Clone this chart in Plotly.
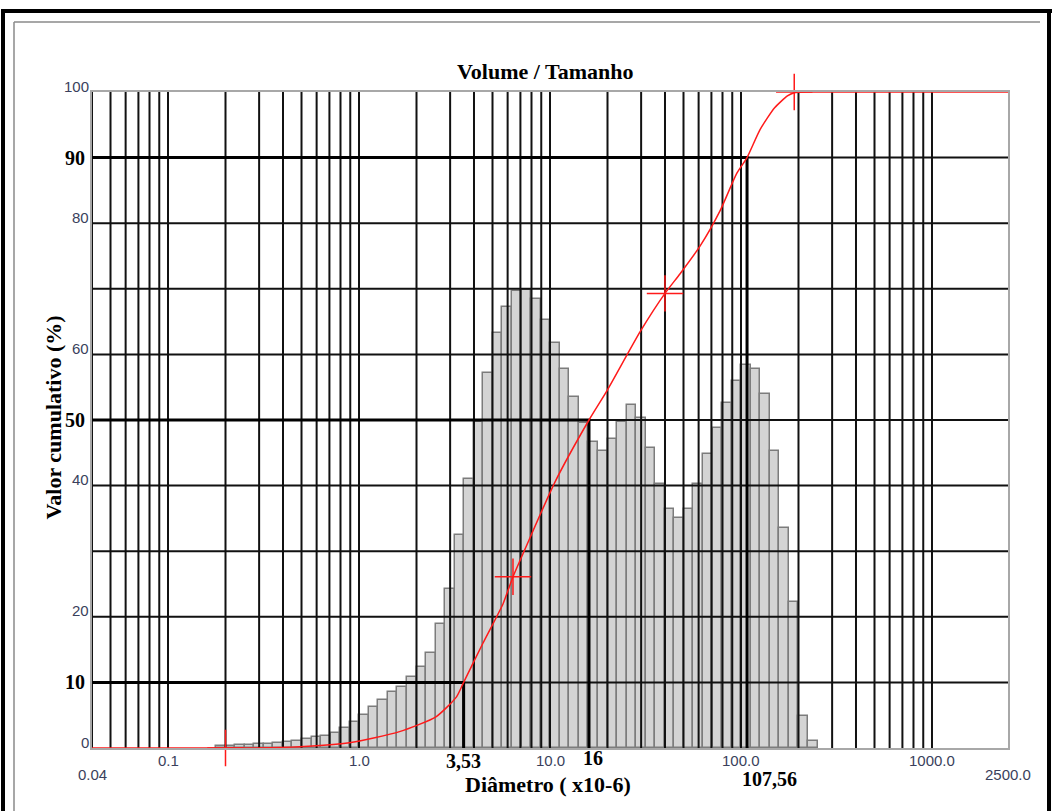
import math
import plotly.graph_objects as go

# Particle size classes (lower edges, micrometres) and volume histogram heights
class_edges = [0.178, 0.200, 0.224, 0.252, 0.283, 0.317, 0.356, 0.399, 0.448, 0.502,
               0.564, 0.632, 0.710, 0.796, 0.893, 1.002, 1.125, 1.262, 1.416, 1.589,
               1.783, 2.000, 2.244, 2.518, 2.825, 3.170, 3.557, 3.991, 4.477, 5.024,
               5.637, 6.325, 7.096, 7.962, 8.934, 10.024, 11.247, 12.619, 14.159, 15.887,
               17.825, 20.000, 22.440, 25.179, 28.251, 31.698, 35.566, 39.905, 44.774, 50.238,
               56.368, 63.246, 70.963, 79.621, 89.337, 100.237, 112.468, 126.191, 141.589, 158.866,
               178.250, 200.000, 224.404, 251.785]
volume_heights = [0.3, 0.35, 0.4, 0.45, 0.56, 0.6, 0.8, 0.96, 1.07, 1.37,
                  1.63, 1.88, 2.24, 3.0, 3.9, 5.1, 6.2, 7.3, 8.5, 9.3,
                  10.8, 12.3, 14.5, 18.9, 24.3, 32.5, 41.0, 49.7, 57.1, 63.2,
                  67.2, 69.6, 69.8, 68.4, 65.2, 61.8, 57.7, 53.5, 49.5, 46.7,
                  45.2, 47.1, 49.7, 52.3, 50.3, 45.7, 40.2, 36.4, 35.0, 36.4,
                  40.2, 44.8, 48.8, 52.6, 56.0, 58.4, 57.7, 54.0, 45.3, 33.5,
                  22.3, 4.9, 1.1]

# Cumulative volume curve
cum_diam = [0.04, 0.2, 0.27, 0.49, 0.89, 1.63, 2.54, 3.24, 3.53, 4.46, 5.68, 6.4, 7.37,
            10.6, 16, 20, 29.7, 40, 48, 61, 78, 95, 107.56, 126, 150, 175, 190, 230, 2500]
cum_pct = [0, 0, 0, 0.2, 0.8, 2.5, 4.8, 7.8, 10, 16, 22, 26.1, 30.2,
           40.5, 50, 54.6, 63.5, 69.3, 72.3, 76.5, 82.0, 87.6, 90, 94.3, 97.6, 99.4, 99.9, 100, 100]

# Highlighted points on the curve
mark_diam = [0.2, 6.4, 40, 190]
mark_pct = [0, 26.1, 69.3, 100]

# Percentiles D10 / D50 / D90
pct_levels = [10, 50, 90]
pct_diam = [3.53, 16, 107.56]
pct_text = ["3,53", "16", "107,56"]

# Axis labelling
x_label_vals = [0.1, 1.0, 10.0, 100.0, 1000.0]
x_label_text = ["0.1", "1.0", "10.0", "100.0", "1000.0"]
x_end_vals = [0.04, 2500.0]
x_end_text = ["0.04", "2500.0"]
y_label_vals = [100, 80, 60, 40, 20, 0]
x_grid = [0.04, 0.05, 0.06, 0.07, 0.08, 0.09,
          0.1, 0.2, 0.3, 0.4, 0.5, 0.6, 0.7, 0.8, 0.9,
          1, 2, 3, 4, 5, 6, 7, 8, 9,
          10, 20, 30, 40, 50, 60, 70, 80, 90,
          100, 200, 300, 400, 500, 600, 700, 800, 900, 1000]
y_grid = [10, 20, 30, 40, 50, 60, 70, 80, 90]
x_min, x_max = 0.04, 2500.0

W, H = 1052, 811
L, R, T, B = 92, 44, 92, 63
PW, PH = W - L - R, H - T - B


def px_x(px):
    return (px - L) / PW


def px_y(py):
    return (H - B - py) / PH


centers = [(a + b) / 2 for a, b in zip(class_edges[:-1], class_edges[1:])]
widths = [b - a for a, b in zip(class_edges[:-1], class_edges[1:])]

fig = go.Figure()

# histogram of volume per size class
fig.add_trace(go.Bar(
    x=centers, y=volume_heights, width=widths,
    marker=dict(color="#d4d4d4", line=dict(color="#7c7c7c", width=1.5)),
    showlegend=False, hoverinfo="skip"))

# grid drawn over the bars
gx, gy = [], []
for v in x_grid:
    gx += [v, v, None]
    gy += [0, 100, None]
for v in y_grid:
    gx += [x_min, x_max, None]
    gy += [v, v, None]
fig.add_trace(go.Scatter(x=gx, y=gy, mode="lines", line=dict(color="#111111", width=2),
                         showlegend=False, hoverinfo="skip"))

# D10 / D50 / D90 guide lines
for lvl, d in zip(pct_levels, pct_diam):
    fig.add_trace(go.Scatter(
        x=[0.038, d, d], y=[lvl, lvl, 0], mode="lines",
        line=dict(color="black", width=3), cliponaxis=False,
        showlegend=False, hoverinfo="skip"))

fig.add_trace(go.Scatter(
    x=cum_diam, y=cum_pct, mode="lines",
    line=dict(color="#ff1a1a", width=1.5, shape="spline", smoothing=0.6),
    cliponaxis=False, showlegend=False))

fig.add_trace(go.Scatter(
    x=mark_diam, y=mark_pct, mode="markers",
    marker=dict(symbol="cross-thin", size=26, line=dict(color="#ff1a1a", width=1.5)),
    cliponaxis=False, showlegend=False))

# Window frame
frame = dict(color="black", width=4)
inner = dict(color="#8a8a8a", width=1.5)
shapes = [
    dict(type="line", xref="paper", yref="paper", x0=px_x(3), x1=px_x(3),
         y0=px_y(9), y1=px_y(820), line=frame, layer="above"),
    dict(type="line", xref="paper", yref="paper", x0=px_x(1), x1=px_x(1060),
         y0=px_y(11), y1=px_y(11), line=frame, layer="above"),
    dict(type="line", xref="paper", yref="paper", x0=px_x(1049), x1=px_x(1049),
         y0=px_y(9), y1=px_y(820), line=frame, layer="above"),
    dict(type="line", xref="paper", yref="paper", x0=px_x(14), x1=px_x(14),
         y0=px_y(22), y1=px_y(820), line=inner, layer="above"),
    dict(type="line", xref="paper", yref="paper", x0=px_x(14), x1=px_x(1040),
         y0=px_y(22), y1=px_y(22), line=inner, layer="above"),
]

tick_font = dict(family="Liberation Sans, Arial", size=15, color="#3a3f5c")
bold_font = dict(family="Liberation Serif, Times New Roman", size=20, color="black")
title_font = dict(family="Liberation Serif, Times New Roman", size=22, color="black")

ann = []
for v, t in zip(x_label_vals, x_label_text):
    ann.append(dict(x=math.log10(v), y=px_y(760), xref="x", yref="paper", text=t,
                    showarrow=False, xanchor="center", yanchor="middle", font=tick_font))
for v, t in zip(x_end_vals, x_end_text):
    ann.append(dict(x=math.log10(v), y=px_y(774), xref="x", yref="paper", text=t,
                    showarrow=False, xanchor="center", yanchor="middle", font=tick_font))
for v in y_label_vals:
    if v in pct_levels:
        continue
    ann.append(dict(x=px_x(91), y=v, xref="paper", yref="y", text=str(v), showarrow=False,
                    xanchor="right", yanchor="middle", yshift=6, font=tick_font))
for lvl in pct_levels:
    ann.append(dict(x=px_x(87), y=lvl, xref="paper", yref="y", text="<b>%d</b>" % lvl,
                    showarrow=False, xanchor="right", yanchor="middle", font=bold_font))
pct_label_y = [761, 758, 779]
pct_label_shift = [0, 4, 22]
for d, t, py, sh in zip(pct_diam, pct_text, pct_label_y, pct_label_shift):
    ann.append(dict(x=math.log10(d), y=px_y(py), xref="x", yref="paper",
                    text="<b>%s</b>" % t, showarrow=False, xanchor="center",
                    yanchor="middle", xshift=sh, borderpad=0, font=bold_font))
ann.append(dict(x=px_x(545), y=px_y(57), xref="paper", yref="paper",
                text="<b>Volume / Tamanho</b>", showarrow=False, font=title_font))
ann.append(dict(x=px_x(548), y=px_y(798), xref="paper", yref="paper",
                text="<b>Diâmetro ( x10-6)</b>", showarrow=False, borderpad=0,
                font=title_font))
ann.append(dict(x=px_x(38), y=px_y(418), xref="paper", yref="paper",
                text="<b>Valor cumulativo (%)</b>", showarrow=False, textangle=-90,
                font=title_font))

fig.update_layout(
    width=W, height=H,
    margin=dict(l=L, r=R, t=T, b=B, pad=0),
    paper_bgcolor="white", plot_bgcolor="white",
    bargap=0,
    shapes=shapes, annotations=ann,
    xaxis=dict(type="log", range=[math.log10(x_min), math.log10(x_max)], showgrid=False,
               zeroline=False, showticklabels=False, ticks="", showline=True,
               linecolor="#a8a8a8", linewidth=2, mirror=True, fixedrange=True),
    yaxis=dict(range=[0, 100], showgrid=False, zeroline=False, showticklabels=False,
               ticks="", showline=True, linecolor="#a8a8a8", linewidth=2, mirror=True,
               fixedrange=True),
)

fig.write_html("out.html")
